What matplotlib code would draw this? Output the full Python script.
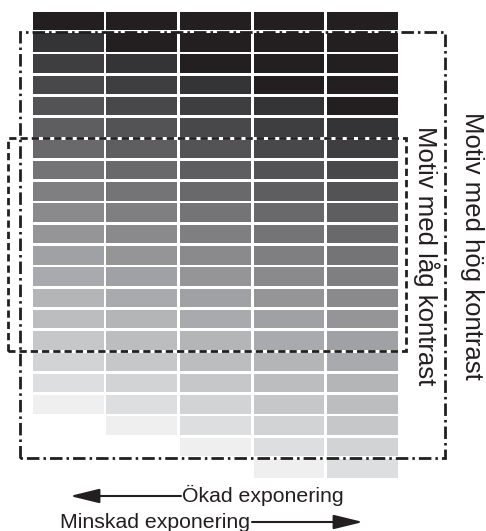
import numpy as np
import matplotlib.pyplot as plt

plt.rcParams['font.family'] = ['Liberation Sans', 'DejaVu Sans']
plt.rcParams['lines.scale_dashes'] = False

# grey steps, darkest first; each column is shifted one step further down
levels = ['#231f20', '#343436', '#3e3e40', '#48484a', '#535355', '#5e5e60',
          '#69696b', '#747477', '#7f7f82', '#8a8a8d', '#959598', '#a0a1a4',
          '#a8aaad', '#b4b5b7', '#bcbdbf', '#c6c7c9', '#d2d3d5', '#dddee0',
          '#efeff0']
n_cols = 5
n_rows = 22
col_shift = [0, 1, 2, 3, 4]

# rows (first, last) enclosed by each frame
high_rows = (1, 20)
low_rows = (6, 15)

label_high = 'Motiv med hög kontrast'
label_low = 'Motiv med låg kontrast'
label_more = 'Ökad exponering'
label_less = 'Minskad exponering'

W, H = 486, 531
ink = '#231f20'

fig = plt.figure(figsize=(W / 100, H / 100), dpi=100)
ax = fig.add_axes([0, 0, 1, 1])
x0, pitch_x = 32.7, 73.6
y0, pitch_y = 11.7, 21.3
ax.set_xlim(-x0 / pitch_x, (W - x0) / pitch_x)
ax.set_ylim((H - y0) / pitch_y, -y0 / pitch_y)
ax.axis('off')

def fpx(x, y):
    # pixel position (from top left) -> figure fraction
    return (x / W, 1 - y / H)

cell_w, cell_h = 0.963, 0.87
rows = np.arange(n_rows)
for c in range(n_cols):
    idx = np.clip(rows - col_shift[c], 0, None)
    keep = idx < len(levels)
    ax.bar(np.full(keep.sum(), c), cell_h, width=cell_w, bottom=rows[keep],
           align='edge', color=[levels[i] for i in idx[keep]], linewidth=0)

gap = 1 - cell_h

def frame(first, last, left, right, style):
    t = first - gap / 2
    b = last + 1 - gap / 2
    ax.plot([left, left, right, right, left], [b, t, t, b, b], color=ink,
            lw=2.0, linestyle=style, solid_joinstyle='miter',
            dash_joinstyle='miter', clip_on=False)

frame(high_rows[0], high_rows[1], -0.179, 5.598, (0, (9.0, 2.9, 1.8, 2.9)))
frame(low_rows[0], low_rows[1], -0.342, 5.076, (0, (5.2, 2.9)))

fig.text(*fpx(465, 246), label_high, rotation=270, rotation_mode='anchor',
         ha='center', va='baseline', fontsize=18.5, color=ink)
fig.text(*fpx(418, 256), label_low, rotation=270, rotation_mode='anchor',
         ha='center', va='baseline', fontsize=18.5, color=ink)

fig.text(*fpx(182, 502.5), label_more, ha='left', va='baseline',
         fontsize=15.3, color=ink)
fig.text(*fpx(60, 528), label_less, ha='left', va='baseline',
         fontsize=15.3, color=ink)

arrow = dict(arrowstyle='-|>,head_length=0.9,head_width=0.22',
             mutation_scale=20, lw=1.5, color=ink, shrinkA=0, shrinkB=0)
ax.annotate('', xy=fpx(70, 496), xytext=fpx(181, 496),
            xycoords='figure fraction', textcoords='figure fraction',
            arrowprops=arrow)
ax.annotate('', xy=fpx(363, 522), xytext=fpx(252, 522),
            xycoords='figure fraction', textcoords='figure fraction',
            arrowprops=arrow)

fig.savefig('out.png', dpi=100)
